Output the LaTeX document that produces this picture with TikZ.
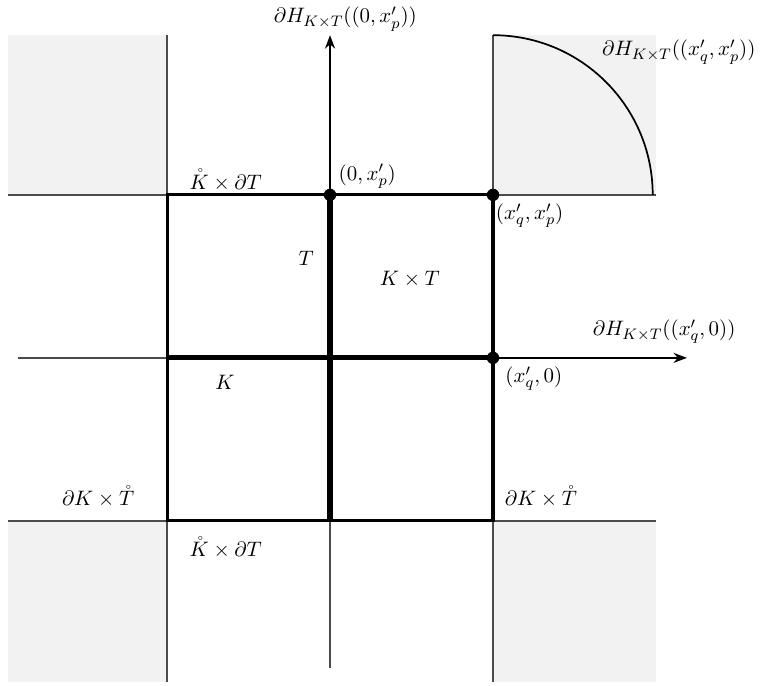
\documentclass[tikz,border=0pt]{standalone}
\usepackage{amsmath}
\usepackage{tikz}
\usetikzlibrary{arrows.meta}

\begin{document}
\begin{tikzpicture}[
  x=3cm, y=3cm,
  >=Stealth,
  font=\fontsize{11}{13}\selectfont,
  region/.style={fill=black!5, draw=none},
  gridline/.style={draw=black!70, line width=0.8pt},
  boxline/.style={line width=1.6pt},
  crossline/.style={line width=2.7pt},
  ray/.style={->, line width=0.9pt},
  dot/.style={circle, fill, inner sep=0pt, minimum size=6.5pt}
]
  \useasboundingbox (-2.025,-2.012) rectangle (2.669,2.196);

  % shaded corners
  \fill[region] (-1.975,1) rectangle (-1,1.98);
  \fill[region] (-1.975,-1) rectangle (-1,-1.99);
  \fill[region] (1,-1) rectangle (2,-1.99);
  \fill[region] (1,1) rectangle (2,1.98);

  % corner points
  \coordinate (o) at (0,0);
  \coordinate (p) at (0,1);
  \coordinate (qp) at (1,1);
  \coordinate (q) at (1,0);
  \coordinate (ptip) at (0,1.98);
  \coordinate (qtip) at (2.19,0);

  % outer lines
  \draw[gridline] (-1.975,1) -- (2,1);
  \draw[gridline] (-1.975,-1) -- (2,-1);
  \draw[gridline] (-1,1.98) -- (-1,-1.99);
  \draw[gridline] (1,1.98) -- (1,-1.99);
  \draw[gridline] (-1.914,0) -- (-1,0);
  \draw[gridline] (0,-1) -- (0,-1.9);

  % quarter circle
  \draw[line width=0.9pt] (1,1.98) arc[start angle=90, end angle=0, radius=0.98];

  % the box K x T
  \draw[boxline] (-1,-1) rectangle (1,1);
  \draw[crossline] (-1,0) -- (q);
  \draw[crossline] (0,-1) -- (p);

  % rays
  \draw[ray] (p) -- (ptip);
  \draw[ray] (q) -- (qtip);

  \node[dot] (pdot) at (p) {};
  \node[dot] (qpdot) at (qp) {};
  \node[dot] (qdot) at (q) {};

  % labels
  \node[above, inner sep=2pt] (hp) at ([xshift=8pt]ptip) {$\partial H_{K\times T}((0,x'_p))$};
  \node[anchor=south west] (lp) at ([xshift=1pt,yshift=0pt]p) {$(0,x'_p)$};
  \node[anchor=north west] (lqp) at ([xshift=-2pt,yshift=-1pt]qp) {$(x'_q,x'_p)$};
  \node[anchor=north west] (lq) at ([xshift=3pt,yshift=-1pt]q) {$(x'_q,0)$};
  \node (hq) at (2.05,0.16) {$\partial H_{K\times T}((x'_q,0))$};
  \node (hqp) at (2.14,1.877) {$\partial H_{K\times T}((x'_q,x'_p))$};
  \node (ktop) at (-0.64,1.09) {$\mathring{K}\times\partial T$};
  \node (kbot) at (-0.64,-1.166) {$\mathring{K}\times\partial T$};
  \node (tleft) at (-1.423,-0.853) {$\partial K\times\mathring{T}$};
  \node (tright) at (1.294,-0.853) {$\partial K\times\mathring{T}$};
  \node (tlab) at (-0.147,0.61) {$T$};
  \node (klab) at (-0.644,-0.153) {$K$};
  \node (ktlab) at (0.49,0.48) {$K\times T$};
\end{tikzpicture}
\end{document}
